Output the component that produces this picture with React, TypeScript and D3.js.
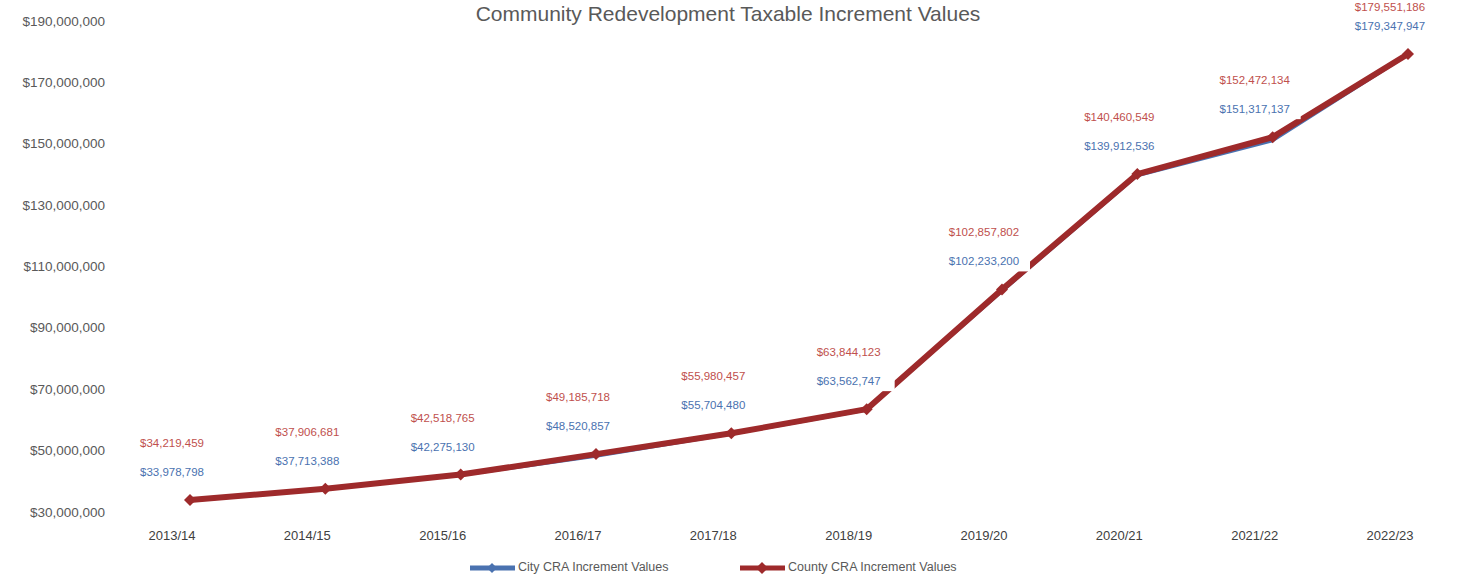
import React from "react";
import * as d3 from "d3";

const years = ["2013/14","2014/15","2015/16","2016/17","2017/18","2018/19","2019/20","2020/21","2021/22","2022/23"];
const cityValues = [33978798, 37713388, 42275130, 48520857, 55704480, 63562747, 102233200, 139912536, 151317137, 179347947];
const countyValues = [34219459, 37906681, 42518765, 49185718, 55980457, 63844123, 102857802, 140460549, 152472134, 179551186];
const yTicks = [30000000, 50000000, 70000000, 90000000, 110000000, 130000000, 150000000, 170000000, 190000000];
const seriesNames = ["City CRA Increment Values", "County CRA Increment Values"];

const W = 1465, H = 581;
const BLUE = "#4a72b0";
const RED_LABEL = "#c0504d";
const RED_LINE = "#9e2a2b";
const GRAY = "#595959";
const FONT = "'Liberation Sans', Arial, sans-serif";

export default function App() {
  const x = d3.scalePoint<string>().domain(years).range([190, 1408]);
  const y = d3.scaleLinear().domain([30000000, 190000000]).range([513, 22]);
  const fmt = (v: number) => "$" + d3.format(",")(v);
  const line = d3.line<number>().x((_, i) => x(years[i]) as number).y((v) => y(v));
  const diamond = (cx: number, cy: number, r: number) =>
    `M${cx},${cy - r}L${cx + r},${cy}L${cx},${cy + r}L${cx - r},${cy}Z`;

  return (
    <div style={{ position: "fixed", left: 0, top: 0 }}>
      <svg width={W} height={H} style={{ display: "block", background: "#fff" }}>
        <text x={728} y={21} textAnchor="middle" fontFamily={FONT} fontSize={21} fill={GRAY}>
          Community Redevelopment Taxable Increment Values
        </text>
        {yTicks.map((t) => (
          <text key={t} x={105} y={y(t)} textAnchor="end" dominantBaseline="middle" fontFamily={FONT} fontSize={13.5} fill={GRAY}>
            {fmt(t)}
          </text>
        ))}
        {years.map((yr) => (
          <text key={yr} x={(x(yr) as number) - 18} y={537} textAnchor="middle" dominantBaseline="middle" fontFamily={FONT} fontSize={13} fill="#404040">
            {yr}
          </text>
        ))}
        <path d={line(cityValues) || ""} fill="none" stroke={BLUE} strokeWidth={3} strokeLinejoin="round" />
        <path d={line(countyValues) || ""} fill="none" stroke={RED_LINE} strokeWidth={6} strokeLinejoin="round" />
        {countyValues.map((v, i) => (
          <path key={"rm" + i} d={diamond(x(years[i]) as number, y(v), 6)} fill={RED_LINE} />
        ))}
        {years.map((yr, i) => {
          const px = (x(yr) as number) - 18;
          const py = y(countyValues[i]);
          return (
            <g key={"lbl" + yr}>
              <rect x={px - 46} y={py - 36} width={92} height={18} fill="#fff" />
              <text x={px} y={py - 27} textAnchor="middle" dominantBaseline="middle" fontFamily={FONT} fontSize={11.5} fill={BLUE}>
                {fmt(cityValues[i])}
              </text>
              <text x={px} y={Math.max(8, py - 56)} textAnchor="middle" dominantBaseline="middle" fontFamily={FONT} fontSize={11.5} fill={RED_LABEL}>
                {fmt(countyValues[i])}
              </text>
            </g>
          );
        })}
        <g>
          <line x1={470} x2={515} y1={568} y2={568} stroke={BLUE} strokeWidth={5} />
          <path d={diamond(492, 568, 5)} fill={BLUE} />
          <text x={518} y={568} dominantBaseline="middle" fontFamily={FONT} fontSize={12.5} fill={GRAY}>{seriesNames[0]}</text>
          <line x1={740} x2={785} y1={568} y2={568} stroke={RED_LINE} strokeWidth={5} />
          <path d={diamond(762, 568, 6)} fill={RED_LINE} />
          <text x={788} y={568} dominantBaseline="middle" fontFamily={FONT} fontSize={12.5} fill={GRAY}>{seriesNames[1]}</text>
        </g>
      </svg>
    </div>
  );
}
